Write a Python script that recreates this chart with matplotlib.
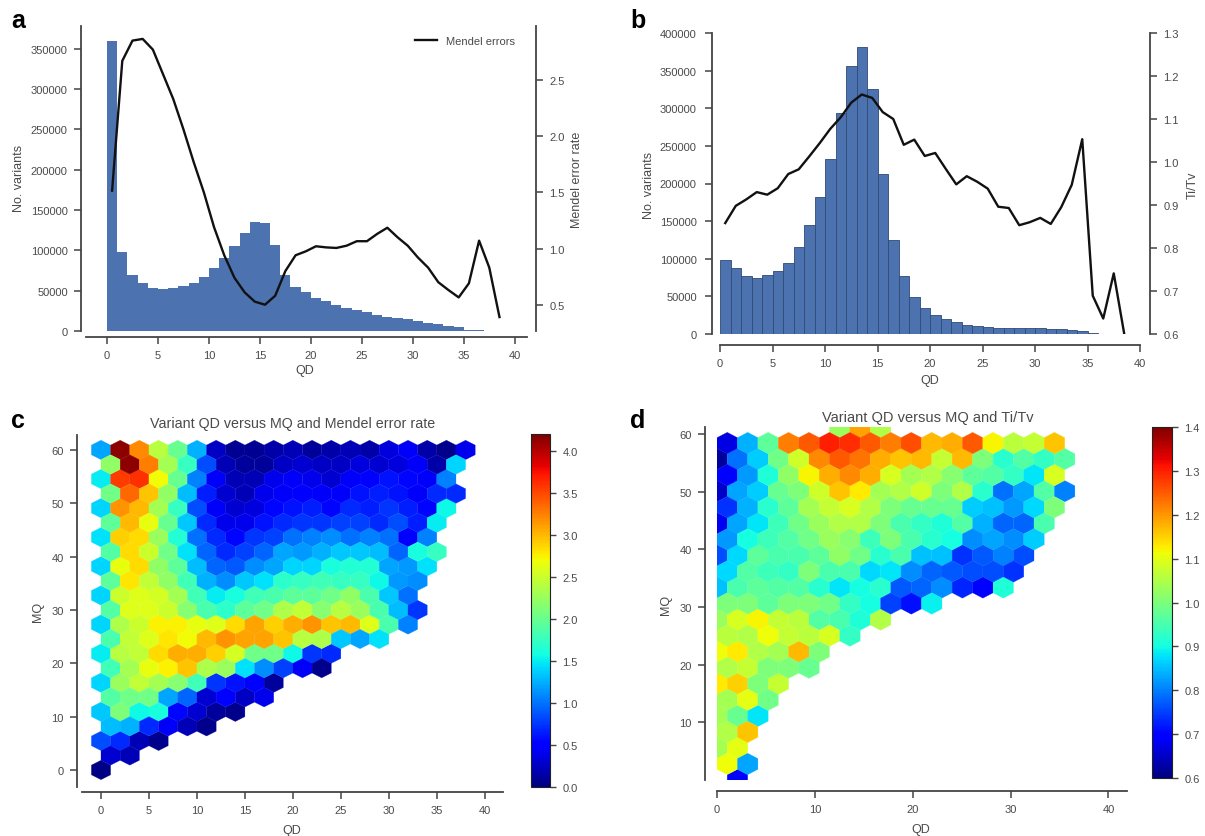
import matplotlib
matplotlib.use("Agg")
import matplotlib.pyplot as plt
import numpy as np

plt.rcParams['font.family'] = ['Liberation Sans', 'DejaVu Sans']

W, H = 1205, 837
text_color = '#4a4a4a'
spine_color = '#444444'
bar_color = '#4C72B0'

# panel a
hist_a = [360000, 98000, 70000, 59000, 53500, 52000, 53000, 56000, 60000, 67000,
          78000, 91000, 105000, 121000, 135500, 134000, 106000, 70000, 55000, 48000,
          41000, 37000, 32500, 28500, 26000, 23000, 20000, 17500, 16000, 14500,
          13000, 10500, 9000, 6500, 5000, 1500, 1000]
mendel_a = [1.515, 2.67, 2.85, 2.865, 2.77, 2.55, 2.33, 2.06, 1.77, 1.5,
            1.19, 0.94, 0.74, 0.61, 0.527, 0.5, 0.58, 0.80, 0.94, 0.975,
            1.02, 1.01, 1.005, 1.025, 1.065, 1.065, 1.13, 1.185, 1.10, 1.025,
            0.92, 0.83, 0.70, 0.63, 0.565, 0.69, 1.07, 0.83, 0.39]

# panel b
hist_b = [99000, 88000, 76500, 74500, 79000, 84000, 95000, 115000, 144500, 182700,
          232400, 293500, 356500, 382000, 325500, 213000, 125000, 77600, 49700, 34000,
          25700, 19500, 15500, 12400, 10000, 9000, 8000, 8000, 8000, 8000,
          8000, 7000, 6000, 5200, 4000, 1300, 300, 100]
titv_b = [0.858, 0.898, 0.913, 0.93, 0.924, 0.939, 0.972, 0.983, 1.013, 1.044,
          1.077, 1.104, 1.138, 1.157, 1.149, 1.116, 1.10, 1.04, 1.052, 1.014,
          1.021, 0.984, 0.948, 0.967, 0.954, 0.938, 0.896, 0.893, 0.853, 0.86,
          0.87, 0.856, 0.895, 0.947, 1.053, 0.689, 0.636, 0.741, 0.6]

# panel c, hex rows from top to bottom
hex_c = [
    [1.2, 4.15, 3.2, 2.4, 2.0, 1.25, .25, .08, .08, .15, .2, .1, .15, .2, .15, .35, .45, .15, .05, .4],
    [2.2, 4.15, 3.25, 2.3, 1.75, .85, .2, .1, .1, .25, .3, .25, .25, .35, .3, .35, .45, .15, 1.4],
    [1.5, 3.55, 3.6, 2.7, 2.0, 1.05, .45, .2, .2, .4, .45, .4, .3, .45, .5, .6, .55, .45, 1.05],
    [2.05, 3.35, 2.95, 2.2, 1.3, .65, .3, .2, .4, .45, .5, .45, .45, .6, .65, .6, .45, .7, .7],
    [1.4, 3.15, 3.0, 2.3, 1.75, .85, .45, .3, .35, .55, .6, .65, .55, .7, .65, .75, .65, .55, 1.55],
    [1.95, 3.0, 2.65, 2.0, 1.35, .7, .4, .4, .6, .7, .75, .75, .8, .8, .7, .85, .65, 1.5],
    [1.45, 2.9, 2.85, 2.25, 1.65, 1.0, .7, .55, .75, .8, 1.0, 1.05, 1.1, 1.0, 1.05, 1.0, .5, 1.05],
    [1.9, 2.85, 2.5, 2.05, 1.45, .95, .7, .8, .95, 1.2, 1.15, 1.25, 1.35, 1.35, 1.3, .95, 1.6, 1.75],
    [1.4, 2.65, 2.85, 2.2, 1.95, 1.3, .95, .9, 1.1, 1.2, 1.4, 1.4, 1.6, 1.65, 1.65, 1.2, 1.15, 1.45],
    [1.95, 2.8, 2.45, 2.2, 1.8, 1.25, 1.1, 1.35, 1.45, 1.7, 1.75, 1.8, 1.75, 1.75, 1.55, 1.15, 1.1],
    [1.4, 2.5, 2.6, 2.55, 2.3, 1.8, 1.5, 1.6, 1.8, 1.85, 1.95, 1.95, 2.05, 2.2, 1.85, 1.35, 1.0],
    [1.9, 2.6, 2.6, 2.5, 2.15, 1.85, 1.7, 1.95, 2.05, 2.35, 2.45, 2.15, 2.4, 2.25, 1.85, 1.3, .75],
    [1.4, 2.35, 2.5, 2.75, 2.75, 2.65, 2.6, 2.85, 3.1, 2.9, 3.05, 3.15, 2.95, 3.0, 2.6, 1.85, 1.05],
    [1.85, 2.45, 2.6, 2.8, 2.7, 3.0, 3.15, 3.1, 3.1, 2.95, 2.4, 2.35, 1.35, 1.2, 1.45],
    [1.5, 2.4, 2.45, 2.85, 3.05, 3.05, 2.9, 2.55, 2.05, 2.05, 1.55, .75, .7],
    [1.8, 2.3, 2.65, 2.75, 2.95, 2.35, 2.25, 1.45, 1.1, .8, .45, .05],
    [1.4, 2.25, 2.45, 2.3, 2.15, 1.8, .75, .6, .5, .1],
    [1.9, 2.05, 2.05, 1.2, .95, .3, .5, .25, .4],
    [1.35, 2.1, 1.55, 1.6, .55, .3, .1, .05],
    [1.3, 1.25, .7, .45, .2, .05],
    [.85, .7, .2, .05],
    [.3, .2],
    [.03],
]

# panel d, hex rows from top to bottom (None = empty cell)
hex_d = [
    [None, None, None, None, None, None, 1.03, 1.19, 1.05],
    [.67, .84, .97, 1.22, 1.25, 1.3, 1.29, 1.25, 1.22, 1.26, 1.17, 1.18, 1.25, 1.12, 1.06, 1.07, 1.16],
    [.62, .79, .86, .99, 1.08, 1.21, 1.25, 1.23, 1.18, 1.16, 1.17, 1.07, 1.17, 1.0, .92, .96, .93, .96],
    [.69, .82, .91, 1.02, 1.12, 1.18, 1.21, 1.18, 1.09, 1.04, 1.05, 1.01, .97, .96, .93, .88, 1.09],
    [.65, .83, .86, .98, 1.0, 1.08, 1.16, 1.13, 1.04, 1.05, 1.08, 1.0, 1.05, .92, .79, .83, .96, .8],
    [.74, .84, .92, .97, 1.04, 1.07, 1.09, 1.05, 1.0, .98, .98, .98, .86, .85, .82, .87, 1.0],
    [.68, .83, .88, .94, .99, 1.03, 1.05, 1.05, 1.0, .95, .93, .91, .96, .84, .78, .78, .95],
    [.82, .9, .94, .96, .99, 1.03, 1.01, .94, 1.0, .95, .92, .9, .81, .83, .81, .86],
    [.76, .87, .97, .95, .95, .97, 1.02, .99, .92, .95, .85, .85, .74, .77, .8, .76],
    [.87, .96, .94, .93, 1.0, .95, .95, .87, .88, .81, .78, .77, .76, .76, .74],
    [.85, .95, .97, .96, .96, .92, .88, .9, .92, .77, .78, .81, .73, .7, .91],
    [1.0, 1.0, .97, 1.0, 1.0, .99, .93, .9, .75, .71, .89],
    [1.03, 1.09, 1.12, 1.07, 1.06, .96, .95, .91, 1.05],
    [1.06, 1.05, 1.11, 1.07, 1.06, 1.09, .93],
    [1.11, 1.13, 1.05, 1.04, 1.17, 1.0],
    [1.05, 1.07, 1.0, 1.0, .98],
    [1.13, 1.15, 1.0, 1.07],
    [1.04, 1.1, .99],
    [1.04, .98, .88],
    [1.05, 1.16],
    [1.04, 1.1],
    [1.11, .83],
    [None, .69],
]


def px_axes(left, top, right, bottom):
    return fig.add_axes([left / W, 1 - bottom / H, (right - left) / W, (bottom - top) / H])


def px_text(x, y, s, **kw):
    kw.setdefault('color', text_color)
    kw.setdefault('ha', 'center')
    kw.setdefault('va', 'center')
    return fig.text(x / W, 1 - y / H, s, **kw)


def style_axis(ax, left_px=None, bottom_px=None):
    for s in ax.spines.values():
        s.set_color(spine_color)
        s.set_linewidth(1.3)
    ax.spines['top'].set_visible(False)
    ax.spines['right'].set_visible(False)
    if left_px is not None:
        ax.spines['left'].set_position(('outward', left_px * 0.72))
    if bottom_px is not None:
        ax.spines['bottom'].set_position(('outward', bottom_px * 0.72))
    ax.tick_params(length=5, width=1.1, pad=4.5, color=spine_color, labelcolor=text_color, labelsize=8)


def style_right(ax2, offset_px):
    for name in ['top', 'left', 'bottom']:
        ax2.spines[name].set_visible(False)
    ax2.spines['right'].set_position(('outward', offset_px * 0.72))
    ax2.spines['right'].set_color(spine_color)
    ax2.spines['right'].set_linewidth(1.3)
    ax2.tick_params(length=5, width=1.1, pad=4.5, color=spine_color, labelcolor=text_color, labelsize=8)


def rows_to_points(rows, sx, sy):
    # rows run top to bottom, alternate rows sit half a cell to the right
    xs, ys, cs = [], [], []
    n = len(rows)
    for r, row in enumerate(rows):
        level = n - 1 - r
        for i, v in enumerate(row):
            if v is None:
                continue
            xs.append((i + 0.5 * (level % 2)) * sx)
            ys.append(level * sy / 2)
            cs.append(v)
    return np.array(xs), np.array(ys), np.array(cs)


def label_at(ax, xlabel_pos, ylabel_pos, xlabel, ylabel):
    ax.set_xlabel(xlabel, fontsize=9, color=text_color)
    ax.set_ylabel(ylabel, fontsize=9, color=text_color)
    ax.xaxis.set_label_coords(xlabel_pos[0] / W, 1 - xlabel_pos[1] / H, transform=fig.transFigure)
    ax.yaxis.set_label_coords(ylabel_pos[0] / W, 1 - ylabel_pos[1] / H, transform=fig.transFigure)


fig = plt.figure(figsize=(W / 100, H / 100), dpi=100)

# ---- a
ax_a = px_axes(86, 27, 527, 332)
ax_a.bar(np.arange(len(hist_a)) + 0.5, hist_a, width=1.0, color=bar_color, linewidth=0)
ax_a.set_xlim(-2.06, 41.2)
ax_a.set_ylim(0, 378000)
ax_a.set_xticks(np.arange(0, 41, 5))
ax_a.set_yticks(np.arange(0, 350001, 50000))
style_axis(ax_a, left_px=5, bottom_px=6)
label_at(ax_a, (305, 365), (25, 178), 'QD', 'No. variants')
ax_a2 = ax_a.twinx()
ax_a2.plot(np.arange(len(mendel_a)) + 0.5, mendel_a, color='#111111', lw=1.7, label='Mendel errors')
ax_a2.set_ylim(0.266, 2.98)
ax_a2.set_yticks([0.5, 1.0, 1.5, 2.0, 2.5])
style_right(ax_a2, 9)
ax_a2.set_ylabel('Mendel error rate', fontsize=9, color=text_color)
ax_a2.yaxis.set_label_coords(571 / W, 1 - 180 / H, transform=fig.transFigure)
ax_a2.legend(loc='upper right', bbox_to_anchor=(0.995, 1.0), frameon=False, fontsize=8,
             labelcolor=text_color, handlelength=2.0)

# ---- b
ax_b = px_axes(720, 34, 1140, 335)
ax_b.bar(np.arange(len(hist_b)) + 0.5, hist_b, width=1.0, color=bar_color,
         edgecolor='#2f4a75', linewidth=0.6)
ax_b.set_xlim(0, 40)
ax_b.set_ylim(0, 400000)
ax_b.set_xticks(np.arange(0, 41, 5))
ax_b.set_yticks(np.arange(0, 400001, 50000))
style_axis(ax_b, left_px=8, bottom_px=11)
ax_b.tick_params(axis='y', pad=6)
label_at(ax_b, (930, 375), (655, 185), 'QD', 'No. variants')
ax_b2 = ax_b.twinx()
ax_b2.plot(np.arange(len(titv_b)) + 0.5, titv_b, color='#111111', lw=1.7)
ax_b2.set_ylim(0.6, 1.3)
ax_b2.set_yticks(np.arange(0.6, 1.31, 0.1))
style_right(ax_b2, 10)
ax_b2.set_ylabel('Ti/Tv', fontsize=9, color=text_color)
ax_b2.yaxis.set_label_coords(1187 / W, 1 - 185 / H, transform=fig.transFigure)

# ---- c
ax_c = px_axes(82, 436, 503, 788)
x_c, y_c, c_c = rows_to_points(hex_c, 2.0, 60 / 11)
hb_c = ax_c.hexbin(x_c, y_c, C=c_c, gridsize=(20, 11), extent=(0, 40, 0, 60),
                   cmap='jet', vmin=0, vmax=4.2, linewidths=0.2)
ax_c.set_xlim(-1.98, 41.9)
ax_c.set_ylim(-3.19, 62.8)
ax_c.set_xticks(np.arange(0, 41, 5))
ax_c.set_yticks(np.arange(0, 61, 10))
style_axis(ax_c, left_px=5, bottom_px=5)
label_at(ax_c, (292, 825), (44, 612), 'QD', 'MQ')
px_text(293, 424, 'Variant QD versus MQ and Mendel error rate', fontsize=10.3)
cax_c = px_axes(531, 435, 550, 788)
cb_c = fig.colorbar(hb_c, cax=cax_c)
cb_c.set_ticks(np.arange(0, 4.01, 0.5))
cb_c.ax.tick_params(length=4, width=1, pad=5, color=spine_color, labelcolor=text_color, labelsize=8)
cb_c.outline.set_edgecolor('#222222')

# ---- d
ax_d = px_axes(717, 428, 1127, 781)
x_d, y_d, c_d = rows_to_points(hex_d, 2.09, 61.2 / 11)
hb_d = ax_d.hexbin(x_d, y_d, C=c_d, gridsize=(20, 11), extent=(0, 41.8, 0, 61.2),
                   cmap='jet', vmin=0.6, vmax=1.4, linewidths=0.2)
ax_d.set_xlim(0, 41.9)
ax_d.set_ylim(0, 61.2)
ax_d.set_xticks(np.arange(0, 41, 10))
ax_d.set_yticks(np.arange(10, 61, 10))
style_axis(ax_d, left_px=12, bottom_px=11)
label_at(ax_d, (921, 824), (672, 605), 'QD', 'MQ')
px_text(928, 418, 'Variant QD versus MQ and Ti/Tv', fontsize=10.5)
cax_d = px_axes(1152, 428, 1172, 779)
cb_d = fig.colorbar(hb_d, cax=cax_d)
cb_d.set_ticks(np.arange(0.6, 1.41, 0.1))
cb_d.ax.tick_params(length=4, width=1, pad=5, color=spine_color, labelcolor=text_color, labelsize=8)
cb_d.outline.set_edgecolor('#222222')

# panel letters
for lx, ly, s in [(18, 21, 'a'), (638, 21, 'b'), (18, 421, 'c'), (638, 421, 'd')]:
    px_text(lx, ly, s, fontsize=18, fontweight='bold', color='black')

fig.savefig('out.png', dpi=100)
